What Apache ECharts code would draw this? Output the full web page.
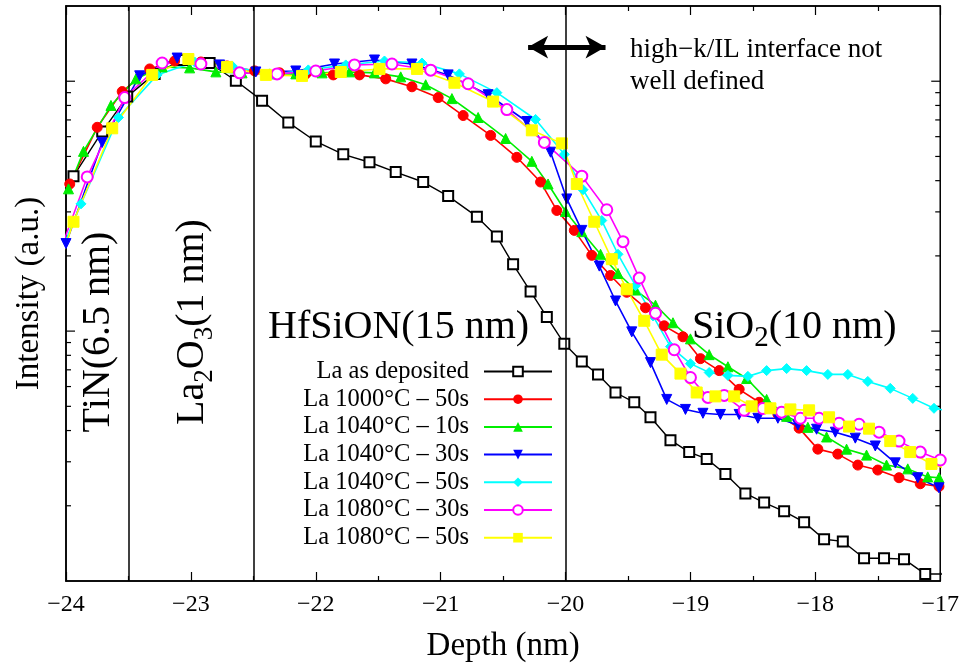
<!DOCTYPE html>
<html>
<head>
<meta charset="utf-8">
<script src="https://cdn.jsdelivr.net/npm/echarts@6/dist/echarts.min.js"></script>
<style>
html,body{margin:0;padding:0;background:#fff;}
#chart{width:962px;height:668px;}
</style>
</head>
<body>
<div id="chart"></div>
<script>
// ---------- data ----------
const seriesNames = ['La as deposited','La 1000°C – 50s','La 1040°C – 10s','La 1040°C – 30s','La 1040°C – 50s','La 1080°C – 30s','La 1080°C – 50s'];

const depthAsDep = [-23.94,-23.71,-23.51,-23.29,-23.07,-22.85,-22.64,-22.43,-22.22,-22.00,-21.78,-21.57,-21.36,-21.14,-20.94,-20.71,-20.55,-20.42,-20.28,-20.15,-20.01,-19.87,-19.74,-19.60,-19.45,-19.32,-19.16,-19.01,-18.87,-18.72,-18.56,-18.41,-18.25,-18.09,-17.93,-17.78,-17.61,-17.45,-17.29,-17.12,-16.95];
const intAsDep = [41.7,62.9,86.8,107,121.6,118.3,100.4,83.6,68.4,57.4,51.0,47.4,43.3,39.5,34.7,28.7,23.9,18.5,14.4,11.4,8.9,7.55,6.7,5.68,5.19,4.52,3.66,3.28,3.08,2.68,2.24,2.06,1.90,1.72,1.47,1.44,1.234,1.234,1.223,1.066,1.066];

const depth1000_50 = [-23.97,-23.75,-23.55,-23.33,-23.13,-22.92,-22.71,-22.49,-22.29,-22.08,-21.86,-21.65,-21.44,-21.23,-21.02,-20.82,-20.60,-20.39,-20.20,-20.07,-19.93,-19.79,-19.64,-19.51,-19.36,-19.21,-19.06,-18.92,-18.77,-18.61,-18.45,-18.30,-18.13,-17.98,-17.82,-17.66,-17.50,-17.33,-17.16,-17.01];
const int1000_50 = [38.8,65.4,90.9,112.0,120.5,119.4,115.1,110.0,108.0,107.0,106.0,106.0,102.2,95.0,86.0,72.9,60.7,49.6,39.5,30.4,25.3,20.1,16.7,14.3,12.4,10.5,9.49,7.76,6.95,5.85,5.19,4.65,4.09,3.37,3.22,2.91,2.78,2.59,2.45,2.39];

const depth1040_10 = [-23.98,-23.86,-23.64,-23.44,-23.23,-23.01,-22.80,-22.59,-22.37,-22.16,-21.95,-21.73,-21.53,-21.32,-21.12,-20.91,-20.70,-20.48,-20.27,-20.14,-20.00,-19.87,-19.72,-19.58,-19.44,-19.28,-19.14,-19.00,-18.85,-18.70,-18.55,-18.39,-18.23,-18.06,-17.91,-17.75,-17.59,-17.43,-17.26,-17.10,-17.01];
const int1040_10 = [37.1,52.4,80.0,102.2,114.1,113.1,109.0,108.0,107.0,107.0,108.0,109.0,108.0,104.1,96.8,85.2,71.6,59.0,47.8,38.8,30.1,25.0,20.3,17.0,14.6,12.7,10.8,9.31,8.05,7.2,6.46,5.33,4.56,4.12,3.77,3.37,3.19,2.91,2.81,2.61,2.59];

const depth1040_30 = [-24.0,-23.71,-23.41,-23.11,-22.77,-22.48,-22.16,-21.85,-21.53,-21.23,-20.94,-20.62,-20.31,-20.12,-19.99,-19.87,-19.73,-19.60,-19.47,-19.32,-19.19,-19.04,-18.90,-18.76,-18.61,-18.46,-18.30,-18.14,-17.99,-17.84,-17.68,-17.52,-17.36,-17.18,-17.01];
const int1040_30 = [22.4,56.9,105.1,123.8,116.2,108.9,109.9,117.2,121.6,117.2,106.0,88.3,69.0,52.0,33.8,25.3,18.2,13.2,9.93,7.48,5.33,4.86,4.69,4.64,4.64,4.48,4.48,4.21,4.05,3.94,3.73,3.47,2.97,2.59,2.36];

const depth1040_50 = [-24.03,-23.88,-23.58,-23.27,-22.97,-22.67,-22.36,-22.06,-21.76,-21.45,-21.15,-20.85,-20.55,-20.24,-20.01,-19.86,-19.71,-19.58,-19.44,-19.30,-19.16,-19.00,-18.85,-18.70,-18.54,-18.39,-18.23,-18.07,-17.90,-17.74,-17.58,-17.40,-17.22,-17.05,-16.88];
const int1040_50 = [21.4,32.3,71.6,106.0,119.4,115.1,106.0,111.0,116.2,120.5,118.3,107.0,90.0,70.3,51.0,36.8,27.7,20.3,15.2,11.5,8.67,7.41,6.83,6.65,6.59,6.95,7.08,6.95,6.71,6.71,6.29,5.9,5.38,4.91,4.74];

const depth1080_30 = [-24.14,-23.83,-23.53,-23.23,-22.92,-22.61,-22.31,-22.00,-21.69,-21.39,-21.08,-20.78,-20.47,-20.17,-19.87,-19.67,-19.54,-19.41,-19.28,-19.13,-19.00,-18.86,-18.73,-18.57,-18.42,-18.27,-18.12,-17.97,-17.81,-17.65,-17.49,-17.33,-17.16,-17.0];
const int1080_30 = [15.6,41.4,86.0,118.3,117.2,108.0,107.0,109.9,116.2,117.2,110.7,97.7,77.0,56.9,41.7,30.6,22.8,16.3,11.8,8.42,6.52,5.43,5.53,4.82,4.9,4.74,4.48,4.48,4.28,4.24,3.94,3.63,3.28,3.05];

const depth1080_50 = [-24.24,-23.94,-23.63,-23.31,-23.02,-22.71,-22.40,-22.11,-21.80,-21.49,-21.19,-20.89,-20.58,-20.27,-20.03,-19.91,-19.77,-19.63,-19.51,-19.37,-19.23,-19.08,-18.95,-18.80,-18.65,-18.51,-18.36,-18.20,-18.05,-17.89,-17.73,-17.57,-17.40,-17.24,-17.07,-16.92];
const int1080_50 = [9.66,27.4,64.8,106.0,122.7,114.1,106.0,105.0,108.9,112.0,112.0,98.6,82.9,63.6,56.4,38.8,27.4,19.4,14.7,11.0,8.05,6.76,5.68,5.48,5.48,5.0,4.91,4.86,4.82,4.52,4.15,4.07,3.63,3.28,2.94,2.78];

const layerBoundaries = [-23.5, -22.5, -20];
const arrowSpan = [-20.3, -19.68];
const arrowLevel = 137;
const yTickValues = [2,3,4,5,6,7,8,9,10,20,30,40,50,60,70,80,90,100];
const xMin = -24, xMax = -17, yMin = 1, yMax = 200;

// ---------- chart ----------
const FONT = '"Liberation Serif","DejaVu Serif",serif';
const zip = (xs, ys) => xs.map((x, i) => [x, ys[i]]);
const chart = echarts.init(document.getElementById('chart'), null, {renderer: 'canvas'});

function lineSeries(name, xs, ys, color, symbol, size, extra) {
  return Object.assign({
    name, type: 'line', data: zip(xs, ys),
    symbol, symbolSize: size, clip: true,
    lineStyle: {color, width: 1.6},
    itemStyle: {color, borderColor: color},
    emphasis: {disabled: true},
    animation: false
  }, extra || {});
}

const fullX = (v) => String(v).replace('-', '\u2212');

const option = {
  backgroundColor: '#fff',
  animation: false,
  grid: {left: 66, right: 19, top: 6, bottom: 83, show: true, borderColor: '#000', borderWidth: 1.5, backgroundColor: 'transparent'},
  legend: {
    data: seriesNames,
    orient: 'vertical',
    align: 'right',
    right: 409,
    top: 359,
    padding: 0,
    itemWidth: 68,
    itemHeight: 12,
    itemGap: 2.7,
    textStyle: {fontFamily: FONT, fontSize: 24.5, color: '#000', lineHeight: 22, padding: [0, 10, 0, 0]},
    selectedMode: false
  },
  xAxis: [{
    type: 'value', min: xMin, max: xMax, interval: 1,
    name: 'Depth (nm)', nameLocation: 'middle', nameGap: 49,
    nameTextStyle: {fontFamily: FONT, fontSize: 33, color: '#000'},
    axisLine: {show: true, lineStyle: {color: '#000', width: 1.5}},
    axisTick: {show: true, inside: true, length: 9, lineStyle: {color: '#000', width: 1.2}},
    minorTick: {show: true, splitNumber: 2, length: 5, lineStyle: {color: '#000', width: 1.2}},
    axisLabel: {formatter: fullX, fontFamily: FONT, fontSize: 24, color: '#000', margin: 12},
    splitLine: {show: false}
  }, {
    type: 'value', min: xMin, max: xMax, interval: 1, position: 'top',
    axisLine: {show: true, lineStyle: {color: '#000', width: 1.5}},
    axisTick: {show: true, inside: true, length: 9, lineStyle: {color: '#000', width: 1.2}},
    minorTick: {show: true, splitNumber: 2, length: 5, lineStyle: {color: '#000', width: 1.2}},
    axisLabel: {show: false},
    splitLine: {show: false}
  }],
  yAxis: [{
    type: 'log', logBase: 10, min: yMin, max: yMax,
    name: 'Intensity (a.u.)', nameLocation: 'middle', nameGap: 20,
    nameTextStyle: {fontFamily: FONT, fontSize: 33, color: '#000'},
    axisLine: {show: true, lineStyle: {color: '#000', width: 1.5}},
    axisTick: {show: false},
    axisLabel: {show: false},
    splitLine: {show: false}
  }],
  graphic: [
    {type: 'text', x: 98, y: 332, rotation: Math.PI / 2,
      style: {text: 'TiN(6.5 nm)', font: '40px ' + FONT, fill: '#000', align: 'center', verticalAlign: 'middle'}},
    {type: 'text', x: 192, y: 322, rotation: Math.PI / 2,
      style: {text: '{m|La}{s|2}{m|O}{s|3}{m|(1 nm)}', align: 'center', verticalAlign: 'middle',
        rich: {m: {fontFamily: FONT, fontSize: 40, lineHeight: 52, verticalAlign: 'middle', fill: '#000'},
               s: {fontFamily: FONT, fontSize: 27, lineHeight: 52, verticalAlign: 'bottom', fill: '#000'}}}},
    {type: 'text', x: 268, y: 327,
      style: {text: 'HfSiON(15 nm)', font: '40px ' + FONT, fill: '#000', align: 'left', verticalAlign: 'middle'}},
    {type: 'text', x: 692, y: 327,
      style: {text: '{m|SiO}{s|2}{m|(10 nm)}', align: 'left', verticalAlign: 'middle',
        rich: {m: {fontFamily: FONT, fontSize: 40, lineHeight: 52, verticalAlign: 'middle', fill: '#000'},
               s: {fontFamily: FONT, fontSize: 29, lineHeight: 52, verticalAlign: 'bottom', fill: '#000'}}}},
    {type: 'text', x: 630, y: 50,
      style: {text: 'high\u2212k/IL interface not', font: '27px ' + FONT, fill: '#000', align: 'left', verticalAlign: 'middle'}},
    {type: 'text', x: 630, y: 82,
      style: {text: 'well defined', font: '27px ' + FONT, fill: '#000', align: 'left', verticalAlign: 'middle'}}
  ],
  series: [
    lineSeries(seriesNames[0], depthAsDep, intAsDep, '#000000', 'emptyRect', 10, {itemStyle: {color: '#000', borderColor: '#000', borderWidth: 1.5}, lineStyle: {color: '#000', width: 1.4}}),
    lineSeries(seriesNames[1], depth1000_50, int1000_50, '#ff0000', 'circle', 10),
    lineSeries(seriesNames[2], depth1040_10, int1040_10, '#00ee00', 'triangle', 10),
    lineSeries(seriesNames[3], depth1040_30, int1040_30, '#0000ff', 'triangle', 10, {symbolRotate: 180}),
    lineSeries(seriesNames[4], depth1040_50, int1040_50, '#00ffff', 'diamond', 10),
    lineSeries(seriesNames[5], depth1080_30, int1080_30, '#ff00ff', 'emptyCircle', 11, {itemStyle: {color: '#ff00ff', borderColor: '#ff00ff', borderWidth: 1.5}}),
    lineSeries(seriesNames[6], depth1080_50, int1080_50, '#ffff00', 'rect', 11),
    {
      type: 'line', data: [], silent: true, animation: false,
      markLine: {
        silent: true, symbol: 'none', animation: false,
        label: {show: false},
        lineStyle: {color: '#000', width: 1.5, type: 'solid'},
        data: layerBoundaries.map(v => ({xAxis: v}))
      }
    },
    {
      type: 'line', data: [], silent: true, animation: false,
      markLine: {
        silent: true, symbol: ['arrow', 'arrow'], symbolSize: [17, 20], animation: false,
        label: {show: false},
        lineStyle: {color: '#000', width: 5, type: 'solid'},
        itemStyle: {color: '#000'},
        data: [[{coord: [arrowSpan[0], arrowLevel]}, {coord: [arrowSpan[1], arrowLevel]}]]
      }
    },
    {
      type: 'custom', silent: true, animation: false, clip: false,
      data: yTickValues.map(v => [xMin, v]),
      encode: {x: 0, y: 1},
      renderItem: function (params, api) {
        const v = api.value(1);
        const lg = Math.log10(v);
        const major = Math.abs(lg - Math.round(lg)) < 1e-9;
        const len = major ? 9 : 5;
        const l = api.coord([xMin, v]);
        const r = api.coord([xMax, v]);
        return {type: 'group', children: [
          {type: 'line', shape: {x1: l[0], y1: l[1], x2: l[0] + len, y2: l[1]}, style: {stroke: '#000', lineWidth: 1.2}},
          {type: 'line', shape: {x1: r[0] - len, y1: r[1], x2: r[0], y2: r[1]}, style: {stroke: '#000', lineWidth: 1.2}}
        ]};
      }
    }
  ]
};
chart.setOption(option);
</script>
</body>
</html>
